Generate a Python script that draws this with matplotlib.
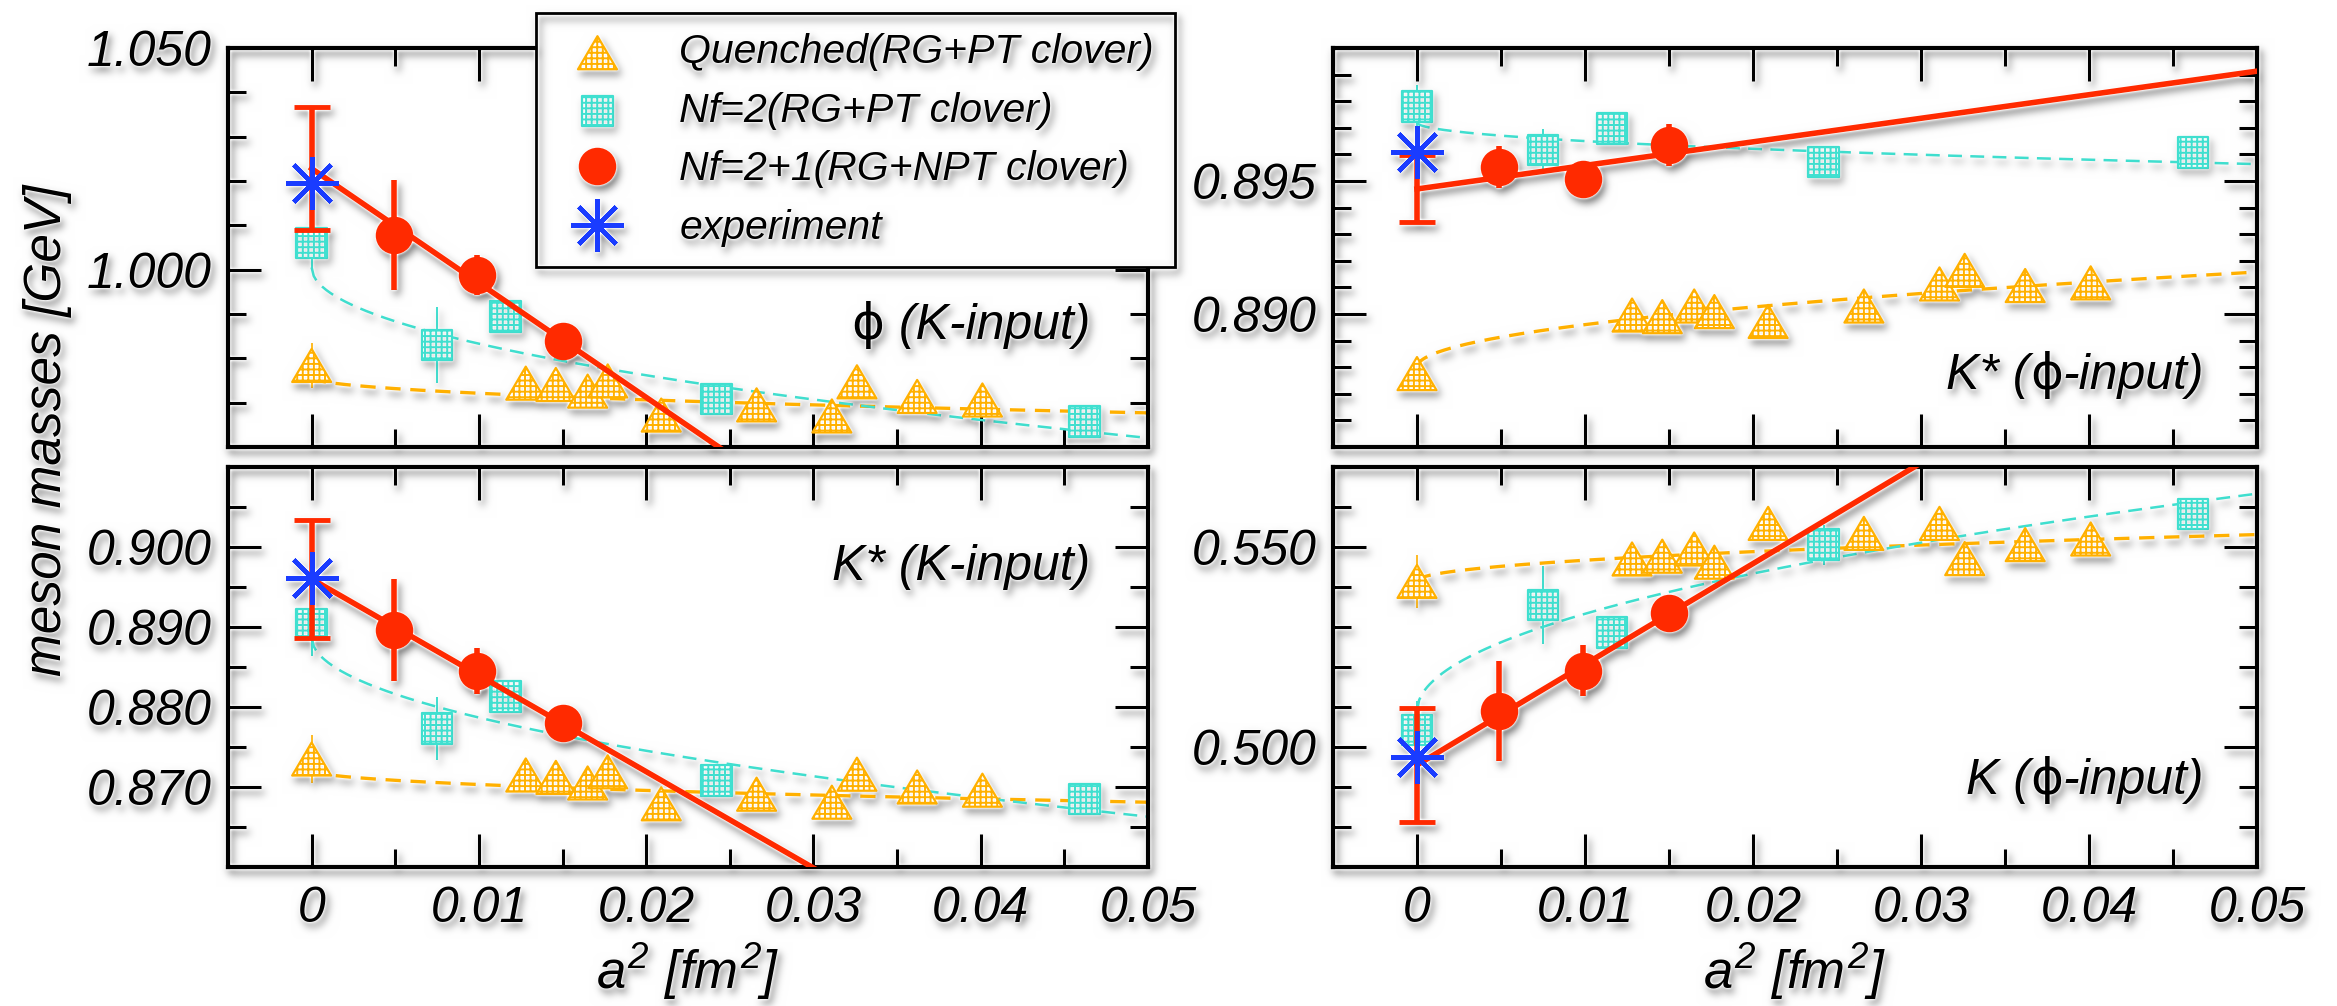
import numpy as np
import matplotlib
matplotlib.use('Agg')
import matplotlib.pyplot as plt
from matplotlib.lines import Line2D
from matplotlib.path import Path
from matplotlib.offsetbox import TextArea, HPacker, AnnotationBbox
from matplotlib.ticker import FixedLocator, MultipleLocator, FuncFormatter, FormatStrFormatter

W, H = 2337, 1006

# lattice spacings a^2 [fm^2]
a2_quenched = [0.0, 0.0128, 0.0146, 0.0165, 0.0177, 0.0209, 0.0266, 0.0311, 0.0326, 0.0362, 0.0401]
a2_nf2 = [0.0, 0.0075, 0.0116, 0.0242, 0.0462]
a2_nf21 = [0.0049, 0.0099, 0.0150]

# phi mass, K-input
phi_q = [0.9784, 0.9744, 0.9741, 0.9726, 0.9749, 0.9672, 0.9695, 0.9670, 0.9747, 0.9714, 0.9706]
phi_q_err = [0.005, 0.0015, 0.0015, 0.0015, 0.0015, 0.0015, 0.0015, 0.0015, 0.0015, 0.0015, 0.0015]
phi_n2 = [1.0060, 0.9830, 0.9894, 0.9708, 0.9658]
phi_n2_err = [0.006, 0.0085, 0.003, 0.003, 0.003]
phi_n21 = [1.0079, 0.9987, 0.9840]
phi_n21_err = [0.0124, 0.0045, 0.002]
phi_lin = [1.0228, 0.0139, -2.58]      # intercept, error, slope
phi_fit_n2 = [1.0005, -0.172]          # c0 + c1*a
phi_fit_q = [0.9757, -0.0358]
phi_exp = 1.0195

# K* mass, K-input
kstK_q = [0.8735, 0.8715, 0.8712, 0.8705, 0.8719, 0.8679, 0.8691, 0.8681, 0.8716, 0.8700, 0.8696]
kstK_q_err = [0.003, 0.001, 0.001, 0.001, 0.001, 0.001, 0.001, 0.001, 0.001, 0.001, 0.001]
kstK_n2 = [0.8904, 0.8773, 0.8813, 0.8708, 0.8685]
kstK_n2_err = [0.004, 0.0039, 0.0015, 0.0015, 0.0015]
kstK_n21 = [0.8896, 0.8845, 0.8780]
kstK_n21_err = [0.0064, 0.0029, 0.0015]
kstK_lin = [0.8960, 0.0074, -1.204]
kstK_fit_n2 = [0.8887, -0.1002]
kstK_fit_q = [0.8721, -0.0179]
kst_exp = 0.8961

# K* mass, phi-input
kstP_q = [0.88776, 0.88996, 0.88990, 0.89030, 0.89009, 0.88972, 0.89030, 0.89113, 0.89164, 0.89107, 0.89117]
kstP_q_err = [0.0003] * 11
kstP_n2 = [0.89781, 0.89616, 0.89698, 0.89572, 0.89608]
kstP_n2_err = [0.0008, 0.0008, 0.0005, 0.0006, 0.0005]
kstP_n21 = [0.89552, 0.89508, 0.89635]
kstP_n21_err = [0.0008, 0.0005, 0.0008]
kstP_lin = [0.8947, 0.00126, 0.0886]
kstP_fit_n2 = [0.8972, -0.0070]
kstP_fit_q = [0.8880, 0.0160]

# K mass, phi-input
kP_q = [0.5414, 0.5470, 0.5477, 0.5495, 0.5462, 0.5559, 0.5534, 0.5559, 0.5471, 0.5506, 0.5520]
kP_q_err = [0.0067, 0.002, 0.002, 0.002, 0.002, 0.002, 0.002, 0.002, 0.002, 0.002, 0.002]
kP_n2 = [0.5043, 0.5355, 0.5286, 0.5506, 0.5583]
kP_n2_err = [0.0073, 0.0097, 0.004, 0.005, 0.004]
kP_n21 = [0.5091, 0.5191, 0.5336]
kP_n21_err = [0.0125, 0.0063, 0.003]
kP_lin = [0.4955, 0.0142, 2.517]
kP_fit_n2 = [0.509, 0.243]
kP_fit_q = [0.5415, 0.0519]
k_exp = 0.4976

labels = ['Quenched(RG+PT clover)', 'Nf=2(RG+PT clover)',
          'Nf=2+1(RG+NPT clover)', 'experiment']

ORANGE = '#ffb000'
CYAN = '#40e0d0'
RED = '#ff2a00'
BLUE = '#1a3cff'

plt.rcParams['font.family'] = ['Liberation Sans', 'DejaVu Sans']
plt.rcParams['font.style'] = 'italic'
plt.rcParams['mathtext.fontset'] = 'custom'
plt.rcParams['mathtext.it'] = 'Liberation Sans:italic'
plt.rcParams['mathtext.rm'] = 'Liberation Sans:italic'
plt.rcParams['hatch.linewidth'] = 1.4
plt.rcParams['lines.scale_dashes'] = False

TRI = Path([(-1, -0.85), (1, -0.85), (0, 0.85), (-1, -0.85)],
           [Path.MOVETO, Path.LINETO, Path.LINETO, Path.CLOSEPOLY])


def _blur(a, sigma):
    r = int(3 * sigma)
    w = np.exp(-0.5 * (np.arange(-r, r + 1) / sigma) ** 2)
    w /= w.sum()
    ny, nx = a.shape
    p = np.pad(a, r)
    tmp = np.zeros((ny + 2 * r, nx))
    for i, wi in enumerate(w):
        tmp += wi * p[:, i:i + nx]
    out = np.zeros((ny, nx))
    for i, wi in enumerate(w):
        out += wi * tmp[i:i + ny, :]
    return out


def drop_shadow(img, dpi, dx=3, dy=5, sigma=4.0, strength=0.55):
    ink = (1.0 - img[..., :3].min(axis=2)) * img[..., 3]
    shifted = np.zeros_like(ink)
    shifted[dy:, dx:] = ink[:-dy, :-dx]
    shade = np.clip(_blur(shifted, sigma), 0, 1)
    near = np.clip(_blur(ink, 1.5) * 2.0, 0, 1)
    k = strength * shade * (1.0 - near)
    out = img.copy()
    out[..., :3] *= (1.0 - k)[..., None]
    return out, 0, 0


def add_axes_px(fig, l, t, r, b):
    return fig.add_axes([l / W, 1 - b / H, (r - l) / W, (b - t) / H])


def draw_panel(ax, q, q_err, n2, n2_err, n21, n21_err, lin, fit_n2, fit_q, m_exp):
    xs = np.linspace(0, 0.05, 400)
    ax.plot(xs, fit_q[0] + fit_q[1] * np.sqrt(xs), color=ORANGE, lw=2.4,
            dashes=(11, 7), zorder=2)
    ax.plot(xs, fit_n2[0] + fit_n2[1] * np.sqrt(xs), color=CYAN, lw=1.8,
            dashes=(10, 6), zorder=2)

    ax.errorbar(a2_quenched, q, yerr=q_err, fmt='none', ecolor=ORANGE,
                elinewidth=1.2, zorder=3)
    hq = ax.scatter(a2_quenched, q, s=28 ** 2, marker=TRI, facecolor='white',
                    edgecolor=ORANGE, hatch='+++', linewidth=1.6, zorder=3)

    ax.errorbar(a2_nf2, n2, yerr=n2_err, fmt='none', ecolor=CYAN,
                elinewidth=1.4, zorder=4)
    hn = ax.scatter(a2_nf2, n2, s=22 ** 2, marker='s', facecolor='white',
                    edgecolor=CYAN, hatch='+++', linewidth=1.6, zorder=4)

    # continuum extrapolation of the Nf=2+1 data
    b0, b_err, slope = lin
    x_line = np.array([0.0, 0.05])
    ax.plot(x_line, b0 + slope * x_line, color=RED, lw=4, zorder=5)
    ax.errorbar([0.0], [b0], yerr=[b_err], fmt='none', ecolor=RED,
                elinewidth=4, capsize=13, capthick=3.5, zorder=5)
    ax.plot([0.0], [m_exp], ls='none', marker=(8, 2, 0), ms=38, mew=3.2,
            color=BLUE, zorder=6)
    ax.errorbar(a2_nf21, n21, yerr=n21_err, fmt='o', ms=27, color=RED,
                mew=0, elinewidth=4, capsize=0, zorder=7)

    ax.set_xlim(-0.005, 0.05)
    ax.xaxis.set_major_locator(MultipleLocator(0.01))
    ax.xaxis.set_minor_locator(MultipleLocator(0.005))
    ax.xaxis.set_major_formatter(FuncFormatter(
        lambda v, _: '0' if abs(v) < 1e-9 else f'{v:g}'))
    ax.tick_params(which='both', direction='in', top=True, right=True,
                   width=2.2, labelsize=36)
    ax.tick_params(which='major', length=24)
    ax.tick_params(which='minor', length=13)
    ax.tick_params(axis='y', pad=12)
    ax.tick_params(axis='x', pad=14)
    for sp in ax.spines.values():
        sp.set_linewidth(3)
    return hq, hn


def set_y(ax, lo, hi, majors, minor):
    ax.set_ylim(lo, hi)
    ax.yaxis.set_major_locator(FixedLocator(majors))
    ax.yaxis.set_minor_locator(MultipleLocator(minor))
    ax.yaxis.set_major_formatter(FormatStrFormatter('%.3f'))


def panel_label(ax, parts, x, y):
    boxes = []
    for s, upright in parts:
        if upright:
            props = dict(family='DejaVu Sans', style='normal', size=36)
        else:
            props = dict(style='italic', size=36)
        boxes.append(TextArea(s, textprops=props))
    pack = HPacker(children=boxes, align='baseline', pad=0, sep=0)
    ab = AnnotationBbox(pack, (x, y), xycoords='axes fraction',
                        box_alignment=(1, 0.5), frameon=False, pad=0)
    ax.add_artist(ab)


fig = plt.figure(figsize=(W / 100, H / 100), dpi=100)

ax_tl = add_axes_px(fig, 228, 48, 1148, 447)
ax_bl = add_axes_px(fig, 228, 467, 1148, 867)
ax_tr = add_axes_px(fig, 1333, 48, 2257, 447)
ax_br = add_axes_px(fig, 1333, 467, 2257, 867)

hq, hn = draw_panel(ax_tl, phi_q, phi_q_err, phi_n2, phi_n2_err, phi_n21, phi_n21_err,
                    phi_lin, phi_fit_n2, phi_fit_q, phi_exp)
draw_panel(ax_bl, kstK_q, kstK_q_err, kstK_n2, kstK_n2_err, kstK_n21, kstK_n21_err,
           kstK_lin, kstK_fit_n2, kstK_fit_q, kst_exp)
draw_panel(ax_tr, kstP_q, kstP_q_err, kstP_n2, kstP_n2_err, kstP_n21, kstP_n21_err,
           kstP_lin, kstP_fit_n2, kstP_fit_q, kst_exp)
draw_panel(ax_br, kP_q, kP_q_err, kP_n2, kP_n2_err, kP_n21, kP_n21_err,
           kP_lin, kP_fit_n2, kP_fit_q, k_exp)

set_y(ax_tl, 0.96, 1.05, [1.00, 1.05], 0.01)
set_y(ax_bl, 0.86, 0.91, [0.87, 0.88, 0.89, 0.90], 0.005)
set_y(ax_tr, 0.885, 0.900, [0.890, 0.895], 0.001)
set_y(ax_br, 0.47, 0.57, [0.50, 0.55], 0.01)

for ax in (ax_tl, ax_tr):
    ax.tick_params(labelbottom=False)
for ax in (ax_bl, ax_br):
    ax.set_xlabel(r'$a^{2}\ [fm^{2}]$', fontsize=38, labelpad=6)

panel_label(ax_tl, [('\u03d5', True), (' (K-input)', False)], 0.937, 0.306)
panel_label(ax_bl, [('K* (K-input)', False)], 0.937, 0.75)
panel_label(ax_tr, [('K* (', False), ('\u03d5', True), ('-input)', False)], 0.943, 0.18)
panel_label(ax_br, [('K (', False), ('\u03d5', True), ('-input)', False)], 0.943, 0.2175)

fig.text(48 / W, 1 - 430 / H, 'meson masses [GeV]', rotation=90,
         ha='center', va='center', fontsize=37)

h_circ = Line2D([], [], ls='none', marker='o', ms=27, color=RED, mew=0)
h_star = Line2D([], [], ls='none', marker=(8, 2, 0), ms=38, mew=3.2, color=BLUE)
leg = fig.legend([hq, hn, h_circ, h_star], labels, loc='upper left',
                 bbox_to_anchor=(536 / W, 1 - 13 / H), borderaxespad=0,
                 fontsize=29.5, frameon=True, fancybox=False, edgecolor='black',
                 framealpha=1, borderpad=0.5, labelspacing=0.5,
                 handlelength=2.0, handletextpad=1.0, scatterpoints=1)
leg.get_frame().set_linewidth(2)

fig.set_agg_filter(drop_shadow)
fig.savefig('out.png', dpi=100, facecolor='white')
